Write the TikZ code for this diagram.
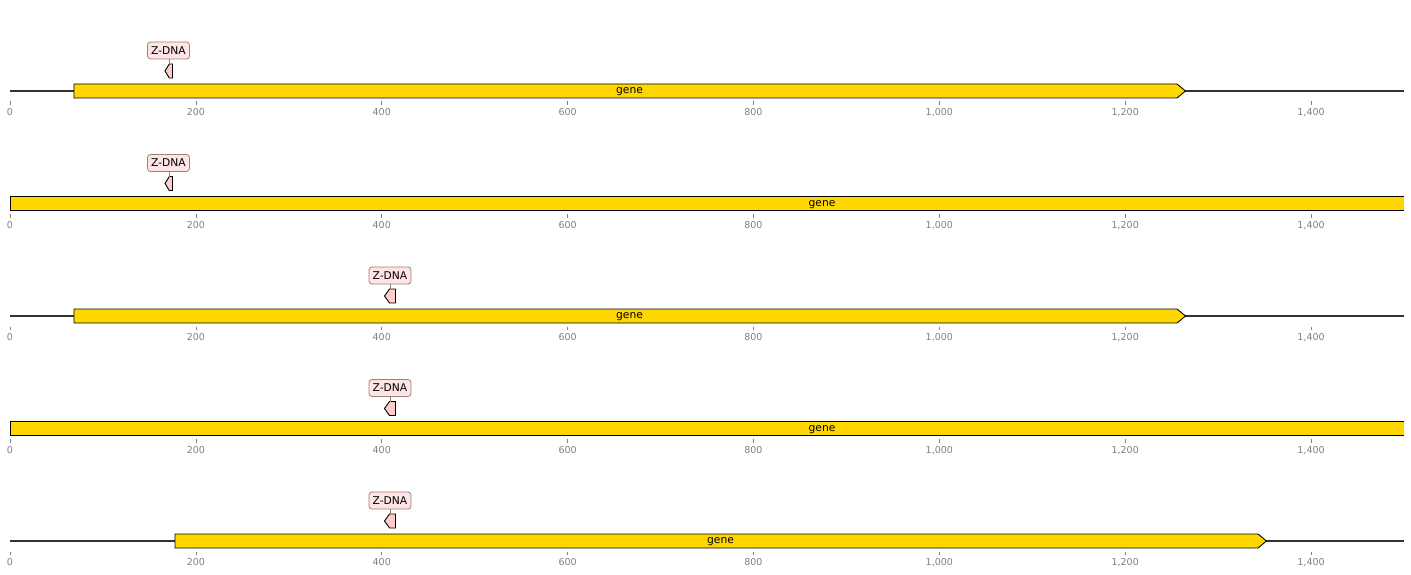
\documentclass[tikz,border=0pt]{standalone}
\usepackage{fontspec}
\setmainfont{DejaVu Sans}
\definecolor{genefill}{HTML}{FFD700}
\definecolor{zfill}{HTML}{FFCCCC}
\definecolor{zbox}{HTML}{FFE4E4}
\definecolor{zedge}{HTML}{9C8080}
\definecolor{axisgray}{HTML}{808080}
\definecolor{backbonecol}{HTML}{333333}
\tikzset{
  genebox/.style={draw=black, line width=0.9pt, fill=genefill, line join=miter},
  geneopen/.style={draw=black, line width=0.9pt},
  zfeat/.style={draw=black, line width=0.9pt, fill=zfill},
  zlabel/.style={draw=zedge, line width=0.8pt, fill=zbox, rounded corners=3pt, minimum width=42pt, minimum height=17pt, inner sep=0pt, text height=7.8pt, text depth=0pt, font=\fontsize{10.7}{12}\selectfont},
  genelabel/.style={font=\fontsize{10.7}{12}\selectfont, inner sep=0pt, text height=5.9pt, text depth=0pt},
  ticklabel/.style={text=axisgray, font=\fontsize{9.5}{11}\selectfont, inner sep=0pt, text height=6.9pt, text depth=0pt},
  tickmark/.style={draw=axisgray, line width=0.7pt},
  backbone/.style={draw=backbonecol, line width=1.5pt},
  leader/.style={draw=gray, line width=0.8pt}
}
\begin{document}
\begin{tikzpicture}[x=1pt, y=-1pt]
\useasboundingbox (0,0) rectangle (1411,575);
\fill[white] (0,0) rectangle (1411,575);
% axes
\foreach \r/\yc in {1/91,2/203.5,3/316,4/428.5,5/541}{
  \foreach \v/\t in {0/0,200/200,400/400,600/600,800/800,1000/{1,000},1200/{1,200},1400/{1,400}}{
    \pgfmathsetmacro{\tx}{10+0.92933*\v}
    \draw[tickmark] (\tx,{\yc+10.5}) -- (\tx,{\yc+14});
    \node[ticklabel] (t\r-\v) at (\tx,{\yc+21.5}) {\t};
  }
}
% row 1
\draw[backbone] (10,91) -- (1404,91);
\draw[genebox] (74,84) -- (1177,84) -- (1185.5,91) -- (1177,98) -- (74,98) -- cycle;
\node[genelabel] (g1) at (629.5,91) {gene};
\draw[zfeat] (172.5,64) -- (169.3,64) -- (165,71) -- (169.3,78) -- (172.5,78) -- cycle;
\coordinate (z1) at (169,64);
\node[zlabel] (l1) at (168.5,50.5) {Z-DNA};
\draw[leader] (l1.south -| z1) -- (z1);
% row 2
\fill[genefill] (10,196.5) rectangle (1404,210.5);
\draw[geneopen] (1404,196.5) -- (10,196.5) -- (10,210.5) -- (1404,210.5);
\node[genelabel] (g2) at (822,203.5) {gene};
\draw[zfeat] (172.5,176.5) -- (169.3,176.5) -- (165,183.5) -- (169.3,190.5) -- (172.5,190.5) -- cycle;
\coordinate (z2) at (169,176.5);
\node[zlabel] (l2) at (168.5,163) {Z-DNA};
\draw[leader] (l2.south -| z2) -- (z2);
% row 3
\draw[backbone] (10,316) -- (1404,316);
\draw[genebox] (74,309) -- (1177,309) -- (1185.5,316) -- (1177,323) -- (74,323) -- cycle;
\node[genelabel] (g3) at (629.5,316) {gene};
\draw[zfeat] (395.5,289) -- (389.5,289) -- (384.5,296) -- (389.5,303) -- (395.5,303) -- cycle;
\coordinate (z3) at (390,289);
\node[zlabel] (l3) at (390,275.5) {Z-DNA};
\draw[leader] (l3.south -| z3) -- (z3);
% row 4
\fill[genefill] (10,421.5) rectangle (1404,435.5);
\draw[geneopen] (1404,421.5) -- (10,421.5) -- (10,435.5) -- (1404,435.5);
\node[genelabel] (g4) at (822,428.5) {gene};
\draw[zfeat] (395.5,401.5) -- (389.5,401.5) -- (384.5,408.5) -- (389.5,415.5) -- (395.5,415.5) -- cycle;
\coordinate (z4) at (390,401.5);
\node[zlabel] (l4) at (390,388) {Z-DNA};
\draw[leader] (l4.south -| z4) -- (z4);
% row 5
\draw[backbone] (10,541) -- (1404,541);
\draw[genebox] (175,534) -- (1258,534) -- (1266.5,541) -- (1258,548) -- (175,548) -- cycle;
\node[genelabel] (g5) at (720.5,541) {gene};
\draw[zfeat] (395.5,514) -- (389.5,514) -- (384.5,521) -- (389.5,528) -- (395.5,528) -- cycle;
\coordinate (z5) at (390,514);
\node[zlabel] (l5) at (390,500.5) {Z-DNA};
\draw[leader] (l5.south -| z5) -- (z5);
\end{tikzpicture}
\end{document}
